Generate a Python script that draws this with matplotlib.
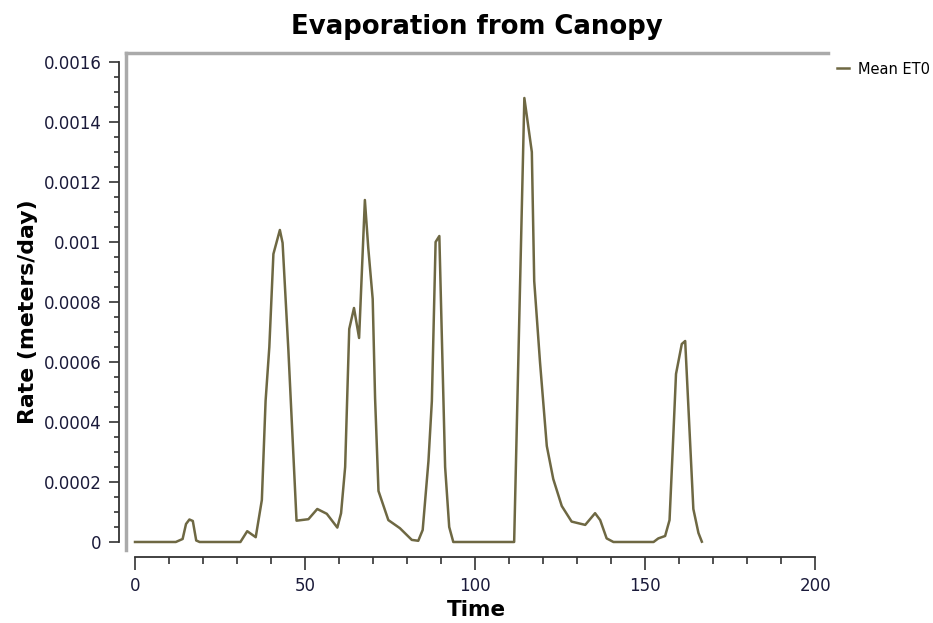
import matplotlib
matplotlib.use('Agg')
from matplotlib import pyplot as plt
from matplotlib.ticker import MultipleLocator

# values
time = [0, 12, 14, 15, 16, 17, 18, 19, 31, 33, 35.5, 37.3, 38.4, 39.5, 40.7, 42.6, 43.4,
        45.1, 47.5, 51, 53.6, 56.4, 59.5, 60.6, 61.8, 63.0, 64.4, 65.9, 67.6, 68.6, 69.9,
        70.6, 71.6, 74.5, 77.9, 81.4, 83.3, 84.6, 86.3, 87.3, 88.4, 89.5, 90.2, 91.2, 92.4,
        93.6, 111.5, 114.5, 116.7, 117.4, 119.1, 121.1, 123.0, 125.5, 128.4, 132.4, 135.3,
        136.8, 138.7, 140.7, 152.5, 153.9, 155.9, 157.2, 158.1, 159.1, 160.8, 161.8, 162.7,
        164.2, 165.7, 166.7]
et0 = [0, 0, 0.00001, 0.00006, 0.000075, 0.00007, 0.000005, 0, 0, 0.000036, 0.000016,
       0.00014, 0.00047, 0.00065, 0.00096, 0.00104, 0.000997, 0.00064, 0.000071, 0.000076,
       0.00011, 0.000094, 0.000048, 0.000096, 0.00025, 0.00071, 0.00078, 0.00068, 0.00114,
       0.00098, 0.00081, 0.00048, 0.00017, 0.000073, 0.000046, 0.000007, 0.000004, 0.00004,
       0.00027, 0.00047, 0.001, 0.00102, 0.0007, 0.00025, 0.00005, 0, 0, 0.00148, 0.0013,
       0.00087, 0.0006, 0.00032, 0.00021, 0.00012, 0.000068, 0.000057, 0.000096, 0.000073,
       0.000012, 0, 0, 0.000012, 0.00002, 0.000073, 0.0003, 0.00056, 0.00066, 0.00067,
       0.00046, 0.00011, 0.00003, 0.000001]

xticks = [0, 50, 100, 150, 200]
yticks = [0, 0.0002, 0.0004, 0.0006, 0.0008, 0.001, 0.0012, 0.0014, 0.0016]
ytick_labels = ['0', '0.0002', '0.0004', '0.0006', '0.0008', '0.001', '0.0012', '0.0014', '0.0016']

line_color = '#6e6843'
frame_gray = '#aaaaaa'
axis_color = '#333333'
label_color = '#1a1a3a'

fig = plt.figure(figsize=(9.33, 6.23), dpi=100)
ax = fig.add_axes([126 / 933, 1 - 550 / 623, 702 / 933, 497 / 623])
ax.patch.set_alpha(0)

ax.plot(time, et0, color=line_color, lw=1.8, label='Mean ET0')
ax.set_xlim(-2.65, 203.8)
ax.set_ylim(-2.67e-5, 0.00163)

# gray frame on left and top, detached black axes
ax.spines['right'].set_visible(False)
ax.spines['top'].set_color(frame_gray)
ax.spines['top'].set_linewidth(2.5)
ax.plot([0, 0], [0, 1], transform=ax.transAxes, color=frame_gray, lw=2.5, clip_on=False)
ax.spines['left'].set_position(('outward', 4.7))
ax.spines['left'].set_bounds(0, 0.0016)
ax.spines['bottom'].set_position(('outward', 5))
ax.spines['bottom'].set_bounds(0, 200)
for s in ['left', 'bottom']:
    ax.spines[s].set_color(axis_color)
    ax.spines[s].set_linewidth(1.3)

ax.set_xticks(xticks)
ax.set_yticks(yticks)
ax.set_yticklabels(ytick_labels)
ax.xaxis.set_minor_locator(MultipleLocator(10))
ax.yaxis.set_minor_locator(MultipleLocator(0.00005))
ax.tick_params(axis='x', which='major', length=9.5, pad=5)
ax.tick_params(axis='x', which='minor', length=4.8)
ax.tick_params(axis='y', which='major', length=7.4, pad=5.5)
ax.tick_params(axis='y', which='minor', length=3.9)
ax.tick_params(which='both', width=1.2, color=axis_color, labelsize=12, labelcolor=label_color)

ax.set_title('Evaporation from Canopy', fontsize=18.7, fontweight='bold', pad=14)
ax.set_xlabel('Time', fontsize=15.5, fontweight='bold')
ax.xaxis.set_label_coords(0.4986, -0.1006)
ax.set_ylabel('Rate (meters/day)', fontsize=15.8, fontweight='bold')
ax.yaxis.set_label_coords(-0.126, 0.479)

fig.legend(loc='center left', bbox_to_anchor=(837 / 933, 1 - 69 / 623), frameon=False,
           fontsize=10.5, handlelength=0.82, handletextpad=0.62, borderpad=0, borderaxespad=0)

fig.savefig('out.png', dpi=100)
